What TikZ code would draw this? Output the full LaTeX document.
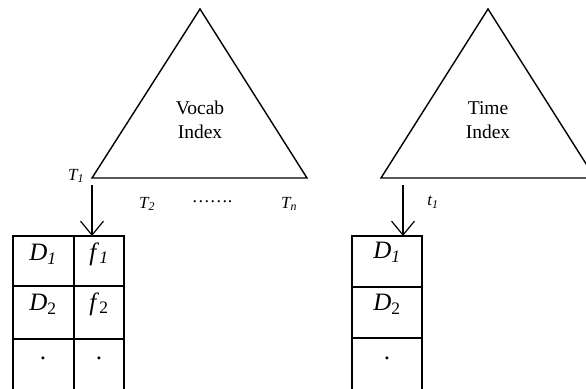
\documentclass[tikz,border=0pt]{standalone}
\usepackage{fontspec}
\setmainfont{Liberation Serif}
\usetikzlibrary{arrows.meta}

\tikzset{
  tri/.style={line width=1.4pt, line join=miter},
  cell/.style={line width=1.8pt},
  lbl/.style={font=\fontsize{17}{19}\selectfont\itshape, inner sep=0pt},
  idx/.style={font=\fontsize{19.5}{24}\selectfont, align=center, inner sep=0pt},
  entry/.style={font=\fontsize{25}{28}\selectfont, inner sep=0pt},
  ptr/.style={line width=1.2pt, -{Straight Barb[length=14pt,width=23pt,line width=1.2pt]}}
}
\newcommand{\sub}[1]{\textsubscript{#1}}

\begin{document}
\begin{tikzpicture}[x=1pt,y=-1pt]
  \useasboundingbox (0,0) rectangle (586,388);
  \clip (0,0) rectangle (586,388);

  % Vocab index triangle
  \coordinate (vtop) at (200,9);
  \coordinate (vleft) at (92,178);
  \coordinate (vright) at (307,178);
  \draw[tri] (vtop) -- (vright) -- (vleft) -- cycle;
  \node[idx] (vocab) at (200,120) {Vocab\\Index};

  % Time index triangle
  \coordinate (ttop) at (488,9);
  \coordinate (tleft) at (381,178);
  \coordinate (tright) at (595,178);
  \draw[tri] (ttop) -- (tright) -- (tleft) -- cycle;
  \node[idx] (time) at (488,120) {Time\\Index};

  % term labels
  \node[lbl] (T1) at (76,176) {T\sub{1}};
  \node[lbl] (T2) at (147,204) {T\sub{2}};
  \node[lbl, font=\fontsize{18}{19}\selectfont] (dots) at (212,202) {…….};
  \node[lbl] (Tn) at (289,204) {T\sub{n}};
  \node[lbl] (t1) at (433,202) {t\sub{1}};

  % posting list for vocab
  \draw[cell] (13,395) -- (13,236) -- (124,236) -- (124,395);
  \draw[cell] (74,236) -- (74,395);
  \draw[cell] (13,286) -- (124,286);
  \draw[cell] (13,339) -- (124,339);
  \coordinate (vlist) at (92,236);
  \node[entry] (vd1) at (43,254) {\textit{D}\sub{\textit{1}}};
  \node[entry] (vf1) at (99,254) {\textit{f}\sub{\textit{1}}};
  \node[entry] (vd2) at (43,304) {\textit{D}\sub{2}};
  \node[entry] (vf2) at (99,304) {\textit{f}\sub{2}};
  \node[entry] (vd3) at (43,358) {.};
  \node[entry] (vf3) at (99,358) {.};

  % posting list for time
  \draw[cell] (352,395) -- (352,236) -- (422,236) -- (422,395);
  \draw[cell] (352,287) -- (422,287);
  \draw[cell] (352,338) -- (422,338);
  \coordinate (tlist) at (403,236);
  \node[entry] (td1) at (387,252) {\textit{D}\sub{\textit{1}}};
  \node[entry] (td2) at (387,304) {\textit{D}\sub{2}};
  \node[entry] (td3) at (387,358) {.};

  % arrows
  \coordinate (vfrom) at (92,185);
  \coordinate (tfrom) at (403,185);
  \draw[ptr] (vfrom) -- (vlist);
  \draw[ptr] (tfrom) -- (tlist);
\end{tikzpicture}
\end{document}
